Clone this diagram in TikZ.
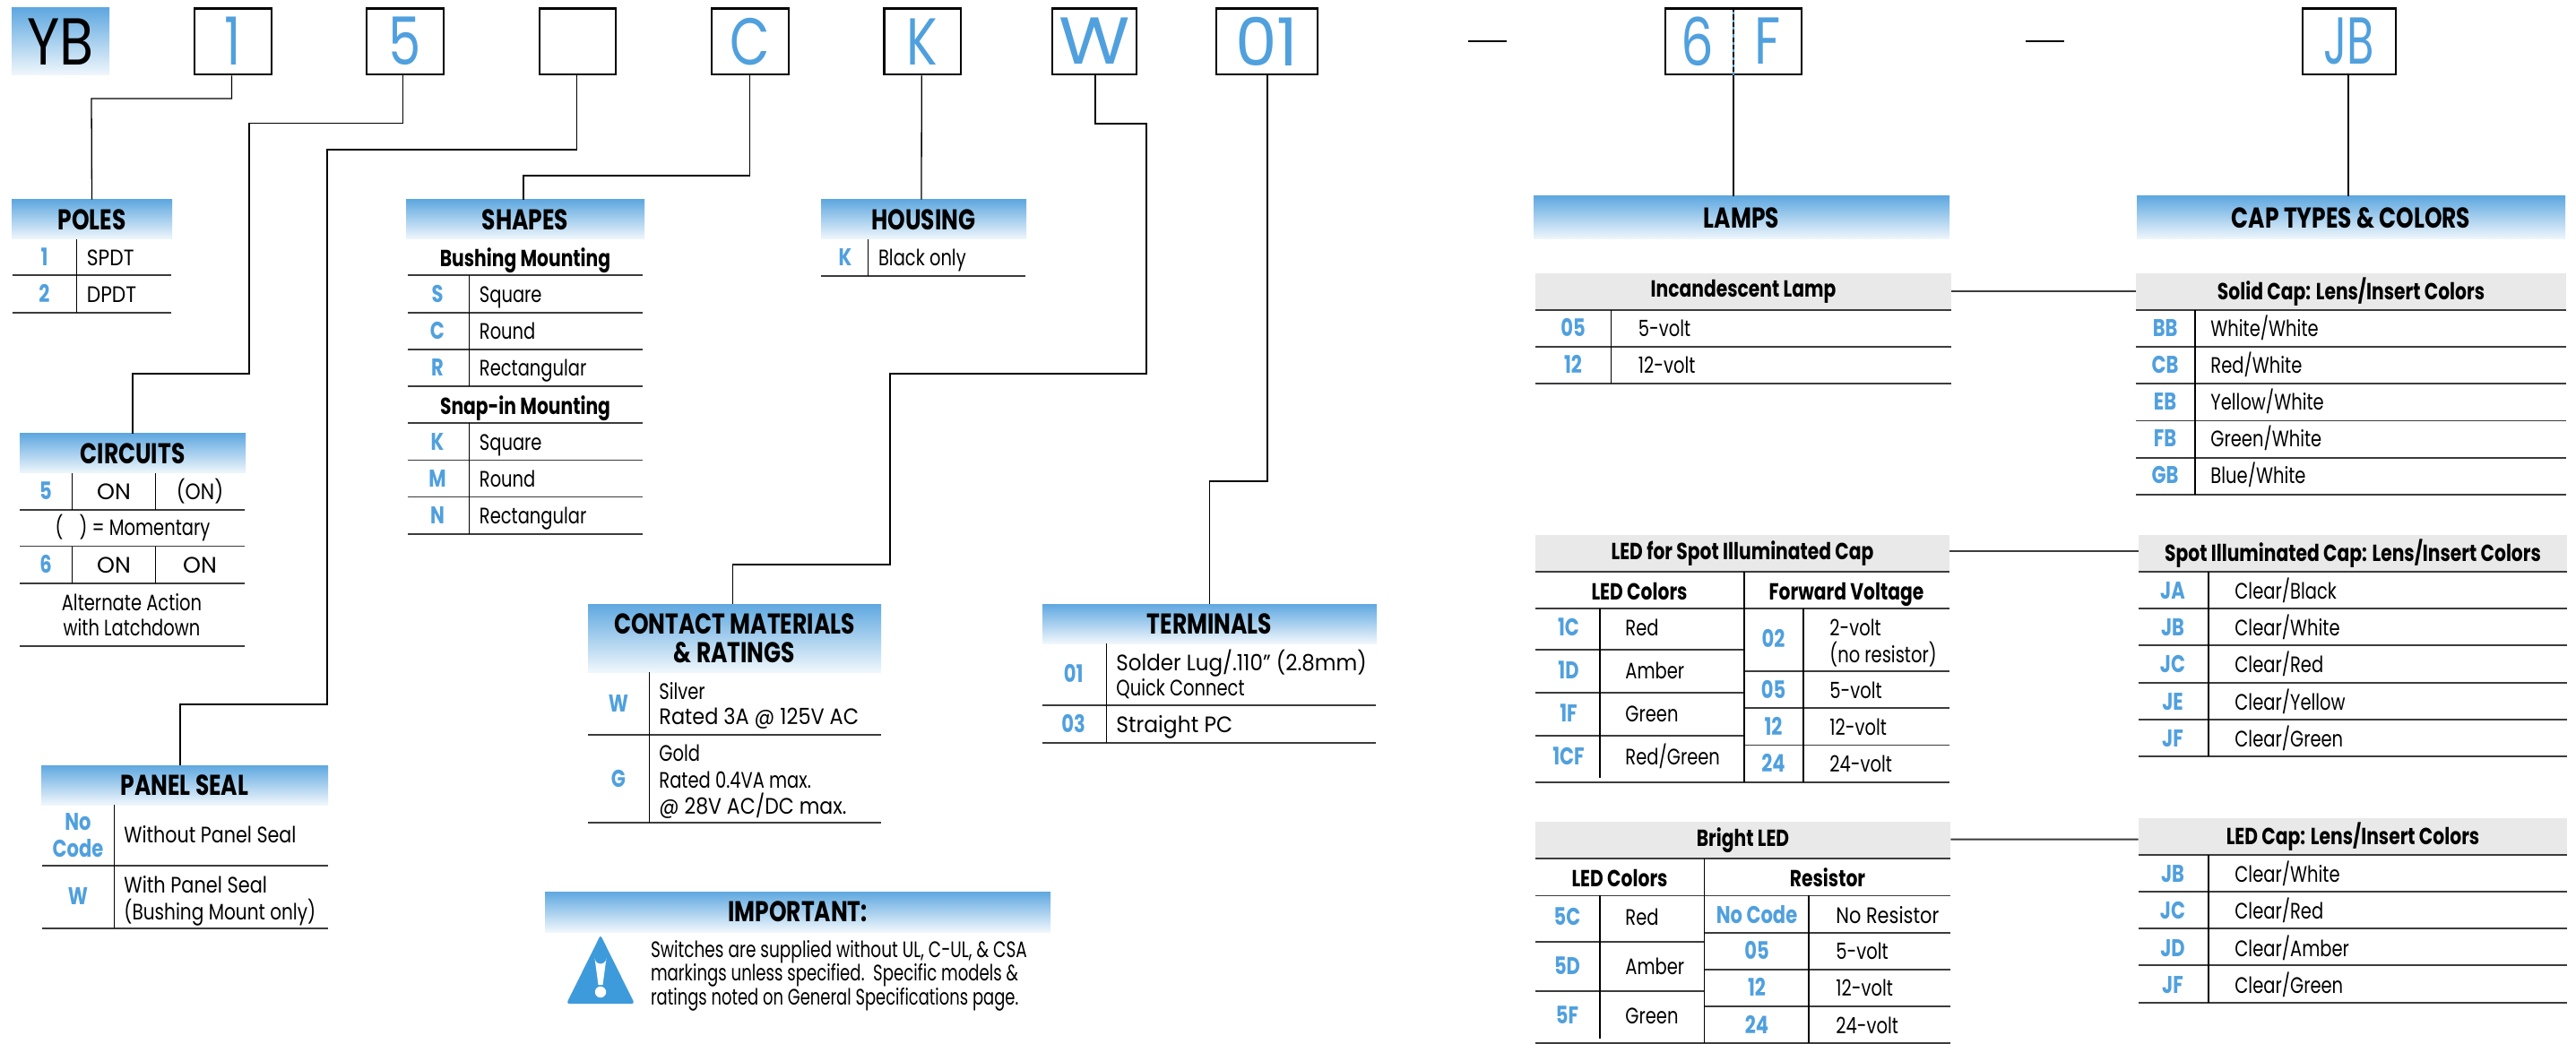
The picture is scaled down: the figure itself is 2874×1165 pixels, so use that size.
\documentclass[tikz,border=0pt]{standalone}
\usepackage{fontspec}
\setmainfont{Poppins}[FakeStretch=0.78]
\newfontfamily\bigW{Poppins}[FakeStretch=1.1]
\newfontfamily\bigO{Poppins}[FakeStretch=1.0]
\newfontfamily\bigJ{Poppins}[FakeStretch=0.67]
\newfontfamily\bigY{Poppins}[FakeStretch=0.84]
\usetikzlibrary{calc}
\definecolor{hdrtop}{RGB}{95,168,224}
\definecolor{hdrbot}{RGB}{240,247,252}
\definecolor{codeblue}{RGB}{80,160,222}
\definecolor{greyhdr}{RGB}{233,233,233}
\definecolor{ruleg}{RGB}{60,60,60}
\definecolor{warnblue}{RGB}{61,155,220}
\tikzset{
  hdrbox/.style={top color=hdrtop,bottom color=hdrbot,inner sep=0pt,font=\fontsize{16}{16}\selectfont\bfseries,align=center},
  greybox/.style={fill=greyhdr,inner sep=0pt,font=\fontsize{13}{15}\selectfont\bfseries},
  digitbox/.style={draw=black,line width=1.4pt,fill=white,inner sep=0pt,text=codeblue,font=\fontsize{37}{40}\selectfont},
  bodytxt/.style={inner sep=0pt,font=\fontsize{12.5}{15}\selectfont,text=black},
  codetxt/.style={inner sep=0pt,font=\fontsize{13.5}{15}\selectfont\bfseries,text=codeblue},
  subtxt/.style={inner sep=0pt,font=\fontsize{13}{15}\selectfont\bfseries,text=black},
  conn/.style={draw=black,line width=0.65pt},
  link/.style={draw=ruleg,line width=1pt},
  gridh/.style={draw=ruleg,line width=0.9pt},
  gridv/.style={draw=black,line width=0.6pt},
}
\newcounter{nn}
\newcommand\hbx[6]{\pgfmathsetmacro\wdv{(#4-#2)*.5}\pgfmathsetmacro\htv{(#5-#3)*.5}%
  \node[hdrbox,text height=11.4pt,minimum width=\wdv pt,minimum height=\htv pt] (#1) at ({(#2+#4)/2},{(#3+#5)/2}) {#6};}
\newcommand\gbx[6]{\pgfmathsetmacro\wdv{(#4-#2)*.5}\pgfmathsetmacro\htv{(#5-#3)*.5}%
  \node[greybox,minimum width=\wdv pt,minimum height=\htv pt] (#1) at ({(#2+#4)/2},{(#3+#5)/2}) {#6};}
\newcommand\dbx[6]{\pgfmathsetmacro\wdv{(#4-#2)*.5}\pgfmathsetmacro\htv{(#5-#3)*.5}%
  \node[digitbox,minimum width=\wdv pt,minimum height=\htv pt] (#1) at ({(#2+#4)/2},{(#3+#5)/2}) {#6};}
\newcommand\tl[3]{\stepcounter{nn}\node[bodytxt,anchor=base west] (t\arabic{nn}) at (#1,{#2+8.5}) {#3};}
\newcommand\tc[3]{\stepcounter{nn}\node[bodytxt,anchor=base] (t\arabic{nn}) at (#1,{#2+8.5}) {#3};}
\newcommand\cd[3]{\stepcounter{nn}\node[codetxt,anchor=base] (t\arabic{nn}) at (#1,{#2+8.5}) {#3};}
\newcommand\sh[3]{\stepcounter{nn}\node[subtxt,anchor=base] (t\arabic{nn}) at (#1,{#2+8.5}) {#3};}
\newcommand\hl[3]{\draw[gridh] (#1,#3) -- (#2,#3);}
\newcommand\vl[3]{\draw[gridv] (#1,#2) -- (#1,#3);}
\newcommand\wider[2]{\scalebox{#1}[1]{#2}}
\begin{document}
\begin{tikzpicture}[x=0.5pt,y=-0.5pt]
\useasboundingbox (0,0) rectangle (2874,1165);
\fill[white] (0,0) rectangle (2874,1165);
% ---------- top code row
\node[top color=hdrtop,bottom color=hdrbot,inner sep=0pt,minimum width=54.5pt,minimum height=37.3pt,font=\fontsize{37}{40}\selectfont] (yb) at (67.5,46.3) {\bigY YB};
\dbx{b1}{217}{9.5}{303}{83}{1}
\dbx{b5}{409}{9.5}{495}{83}{5}
\dbx{bx}{602}{9.5}{687}{83}{}
\dbx{bc}{794}{9.5}{880}{83}{C}
\dbx{bk}{986.5}{9.5}{1072}{83}{K}
\dbx{bw}{1174}{9.5}{1268}{83}{\bigW W}
\dbx{bt}{1357}{9.5}{1470}{83}{\bigO 01}
\dbx{bl}{1858}{9.5}{2010}{83}{}
\dbx{bj}{2569}{9.5}{2673}{83}{\bigJ JB}
\node[inner sep=0pt,text=codeblue,font=\fontsize{37}{40}\selectfont] (l6) at (1894,46) {6};
\node[inner sep=0pt,text=codeblue,font=\fontsize{37}{40}\selectfont] (lf) at (1972,46) {F};
\draw[codeblue,line width=0.6pt] (bl.north) -- (bl.south);
\draw[black,line width=0.7pt,dash pattern=on 2.6pt off 1.6pt] (bl.north) -- (bl.south);
\coordinate (dash1a) at (1638,46); \coordinate (dash1b) at (1681,46);
\coordinate (dash2a) at (2260,46); \coordinate (dash2b) at (2303,46);
\draw[black,line width=1.2pt] (dash1a) -- (dash1b);
\draw[black,line width=1.2pt] (dash2a) -- (dash2b);
% ---------- section headers
\hbx{poles}{13}{223}{192}{267}{POLES}
\hbx{shapes}{453}{223}{719}{267}{SHAPES}
\hbx{housing}{916}{223}{1145}{267}{HOUSING}
\hbx{circuits}{22}{484}{274}{528}{CIRCUITS}
\hbx{panel}{46}{854}{366}{898}{PANEL SEAL}
\node[hdrbox,minimum width=163.5pt,minimum height=38pt] (contact) at (819.5,712) {CONTACT MATERIALS\\\& RATINGS};
\hbx{terminals}{1163}{674}{1536}{718}{TERMINALS}
\hbx{important}{608}{995}{1172}{1040}{IMPORTANT:}
\hbx{lamps}{1711}{219}{2175}{267}{LAMPS}
\hbx{caps}{2384}{219}{2862}{267}{CAP TYPES \& COLORS}
% ---------- connectors
\draw[conn] ($(b1.south)+(-1.5,0)$) |- (102,110) -- (poles.north);
\draw[conn] ($(b5.south)+(-2.5,0)$) |- (278,137.6) |- (148,417) -- (circuits.north);
\draw[conn] ($(bx.south)+(-1,0)$) |- (365,167) |- (201,786) -- ($(panel.north)+(-5,0)$);
\draw[conn] ($(bc.south)+(-0.6,0)$) |- (584,196) -- ($(shapes.north)+(-2,0)$);
\draw[conn] ($(bk.south)+(-1,0)$) -- ($(housing.north)+(-2.5,0)$);
\draw[conn] ($(bw.south)+(1,0)$) |- (1279,138) |- (993,417) |- (817.5,630) -- ($(contact.north)+(-2,0)$);
\draw[conn] ($(bt.south)+(0.5,0)$) |- (1349.5,537) -- (terminals.north);
\draw[conn] (bl.south) -- ($(lamps.north)+(-9,0)$);
\draw[conn] ($(bj.south)+(-1,0)$) -- ($(caps.north)+(-3,0)$);
% ---------- POLES
\hl{13.5}{191}{307.4}\hl{13.5}{191}{349}\vl{85.5}{267}{349}
\cd{49.5}{288}{1}\tl{96.5}{288}{\wider{1.12}{SPDT}}
\cd{49.5}{329}{2}\tl{96.5}{329}{\wider{1.12}{DPDT}}
% ---------- SHAPES
\sh{586}{288.6}{Bushing Mounting}
\sh{586}{454}{Snap-in Mounting}
\foreach \yy in {307.4,349,390,431,472,513.5,554.6,595.7}{\hl{455}{717}{\yy}}
\vl{523.5}{307.4}{431}\vl{523.5}{472}{595.7}
\cd{488}{329}{S}\tl{534.5}{329}{Square}
\cd{488}{370}{C}\tl{534.5}{370}{Round}
\cd{488}{411}{R}\tl{534.5}{411}{Rectangular}
\cd{488}{494}{K}\tl{534.5}{494}{Square}
\cd{488}{535}{M}\tl{534.5}{535}{Round}
\cd{488}{576}{N}\tl{534.5}{576}{Rectangular}
% ---------- HOUSING
\hl{916}{1144}{308}\vl{968.7}{267}{308}
\cd{943}{288}{K}\tl{979.6}{288}{Black only}
% ---------- CIRCUITS
\hl{22}{273}{569}\hl{22}{273}{609.5}\hl{22}{273}{651}\hl{22}{273}{721}
\vl{80.4}{528}{569}\vl{173.4}{528}{569}\vl{80.4}{609.5}{651}\vl{173.4}{609.5}{651}
\cd{51}{549}{5}\tc{127}{549}{\wider{1.3}{ON}}\tc{223}{549}{\wider{1.12}{(ON)}}
\tc{148}{589}{(\hspace{9pt}) = Momentary}
\cd{51}{631}{6}\tc{127}{631}{\wider{1.3}{ON}}\tc{223}{631}{\wider{1.3}{ON}}
\tc{147}{673}{Alternate Action}
\tc{147}{701}{with Latchdown}
% ---------- PANEL SEAL
\hl{47}{366}{966}\hl{47}{366}{1036}\vl{127.5}{898}{1036}
\cd{87}{918}{No}\cd{87}{947.5}{Code}\tl{138}{932}{\wider{1.06}{Without Panel Seal}}
\cd{87}{1001}{W}\tl{138}{988}{\wider{1.07}{With Panel Seal}}\tl{138}{1018}{\wider{1.03}{(Bushing Mount only)}}
% ---------- CONTACT
\hl{656}{982.5}{820}\hl{656}{982.5}{918}\vl{724.4}{750}{918}
\cd{690}{786}{W}\tl{735}{772}{Silver}\tl{735}{800}{\wider{1.15}{Rated 3A @ 125V AC}}
\cd{690}{870}{G}\tl{735}{841}{Gold}\tl{735}{871}{Rated 0.4VA max.}\tl{735}{899.5}{\wider{1.13}{@ 28V AC/DC max.}}
% ---------- TERMINALS
\hl{1163}{1535}{787}\hl{1163}{1535}{829}\vl{1234.6}{718}{829}
\cd{1197.6}{753}{01}\tl{1245}{740}{\wider{1.18}{Solder Lug/.110” (2.8mm)}}\tl{1245}{768}{Quick Connect}
\cd{1197.6}{809}{03}\tl{1245}{809}{\wider{1.2}{Straight PC}}
% ---------- IMPORTANT
\fill[warnblue,rounded corners=1.5pt] (670,1043.4) -- (708,1120) -- (632,1120) -- cycle;
\fill[white] (663.5,1069) arc[start angle=180,end angle=0,radius=6.5] -- (672.5,1099) -- (667.5,1099) -- cycle;
\fill[white] (670,1107) circle (3.1pt);
\tl{725.6}{1059.5}{\wider{.95}{Switches are supplied without UL, C-UL, \& CSA}}
\tl{725.6}{1086}{\wider{.93}{markings unless specified.\ \ Specific models \&}}
\tl{725.6}{1113}{\wider{.92}{ratings noted on General Specifications page.}}
% ---------- LAMPS: incandescent
\gbx{inc}{1713}{305}{2177}{346}{Incandescent Lamp}
\hl{1713}{2177}{346}\hl{1713}{2177}{387}\hl{1713}{2177}{428.4}\vl{1797.4}{346}{428.4}
\cd{1755}{367}{05}\tl{1827.5}{367}{5-volt}
\cd{1755}{408}{12}\tl{1827.5}{408}{12-volt}
% ---------- solid cap
\gbx{solid}{2383}{305}{2863}{346}{Solid Cap: Lens/Insert Colors}
\foreach \yy in {346,387,428.4,469.5,511,552}{\hl{2383}{2863}{\yy}}
\vl{2449}{346}{552}
\cd{2415.6}{367}{BB}\tl{2466}{367}{White/White}
\cd{2415.6}{408}{CB}\tl{2466}{408}{Red/White}
\cd{2415.6}{449}{EB}\tl{2466}{449}{Yellow/White}
\cd{2415.6}{490}{FB}\tl{2466}{490}{Green/White}
\cd{2415.6}{531}{GB}\tl{2466}{531}{Blue/White}
\draw[link] ($(inc.east)+(0,-0.5)$) -- ($(solid.west)+(0,-0.5)$);
% ---------- LED for spot
\gbx{spotled}{1713}{597}{2175}{638}{LED for Spot Illuminated Cap}
\hl{1713}{2175}{638}\hl{1713}{2175}{679}\hl{1713}{2175}{873}
\hl{1713}{1946}{725}\hl{1713}{1946}{773}\hl{1713}{1946}{821}
\hl{1946}{2175}{749}\hl{1946}{2175}{790}\hl{1946}{2175}{831.5}
\vl{1946}{638}{873}\vl{1785}{679}{868}\vl{2012}{679}{873}
\sh{1829}{661}{LED Colors}\sh{2060}{661}{Forward Voltage}
\cd{1750}{701}{1C}\tl{1813}{701}{Red}
\cd{1750}{749}{1D}\tl{1813}{749}{Amber}
\cd{1750}{797}{1F}\tl{1813}{797}{Green}
\cd{1750}{845}{1CF}\tl{1813}{845}{Red/Green}
\cd{1978.5}{714}{02}\tl{2041}{701}{2-volt}\tl{2041}{731}{(no resistor)}
\cd{1978.5}{771}{05}\tl{2041}{771}{5-volt}
\cd{1978.5}{812}{12}\tl{2041}{812}{12-volt}
\cd{1978.5}{853}{24}\tl{2041}{853}{24-volt}
% ---------- spot cap
\gbx{spotcap}{2386}{597}{2864}{638}{Spot Illuminated Cap: Lens/Insert Colors}
\foreach \yy in {638,679,720,762,803,844}{\hl{2386}{2864}{\yy}}
\vl{2464}{638}{844}
\cd{2424}{660}{JA}\tl{2493}{660}{Clear/Black}
\cd{2424}{701}{JB}\tl{2493}{701}{Clear/White}
\cd{2424}{742}{JC}\tl{2493}{742}{Clear/Red}
\cd{2424}{784}{JE}\tl{2493}{784}{Clear/Yellow}
\cd{2424}{825}{JF}\tl{2493}{825}{Clear/Green}
\draw[link] ($(spotled.east)+(0,-2.8)$) -- ($(spotcap.west)+(0,-2.8)$);
% ---------- bright LED
\gbx{bright}{1713}{917}{2176}{958}{Bright LED}
\hl{1713}{2176}{958}\hl{1713}{2176}{999.4}\hl{1713}{2176}{1164}
\hl{1713}{1901.6}{1051}\hl{1713}{1901.6}{1106}
\hl{1901.6}{2176}{1041}\hl{1901.6}{2176}{1082}\hl{1901.6}{2176}{1123}
\vl{1901.6}{958}{1164}\vl{1785}{999.4}{1159}\vl{2018}{999.4}{1164}
\sh{1807}{981}{LED Colors}\sh{2039}{981}{Resistor}
\cd{1748.5}{1024}{5C}\tl{1813}{1024}{Red}
\cd{1748.5}{1079}{5D}\tl{1813}{1079}{Amber}
\cd{1748.5}{1134}{5F}\tl{1813}{1134}{Green}
\cd{1960}{1022}{No Code}\tl{2048}{1022}{\wider{1.07}{No Resistor}}
\cd{1960}{1062}{05}\tl{2048}{1062}{5-volt}
\cd{1960}{1103}{12}\tl{2048}{1103}{12-volt}
\cd{1960}{1144.5}{24}\tl{2048}{1144.5}{24-volt}
% ---------- LED cap
\gbx{ledcap}{2386}{913}{2864}{954}{LED Cap: Lens/Insert Colors}
\foreach \yy in {954,995,1036,1077,1119}{\hl{2386}{2864}{\yy}}
\vl{2464}{954}{1119}
\cd{2424}{976}{JB}\tl{2493}{976}{Clear/White}
\cd{2424}{1017}{JC}\tl{2493}{1017}{Clear/Red}
\cd{2424}{1059}{JD}\tl{2493}{1059}{Clear/Amber}
\cd{2424}{1100}{JF}\tl{2493}{1100}{Clear/Green}
\draw[link] ($(bright.east)+(0,-0.8)$) -- ($(ledcap.west)+(0,3.2)$);
\end{tikzpicture}
\end{document}
